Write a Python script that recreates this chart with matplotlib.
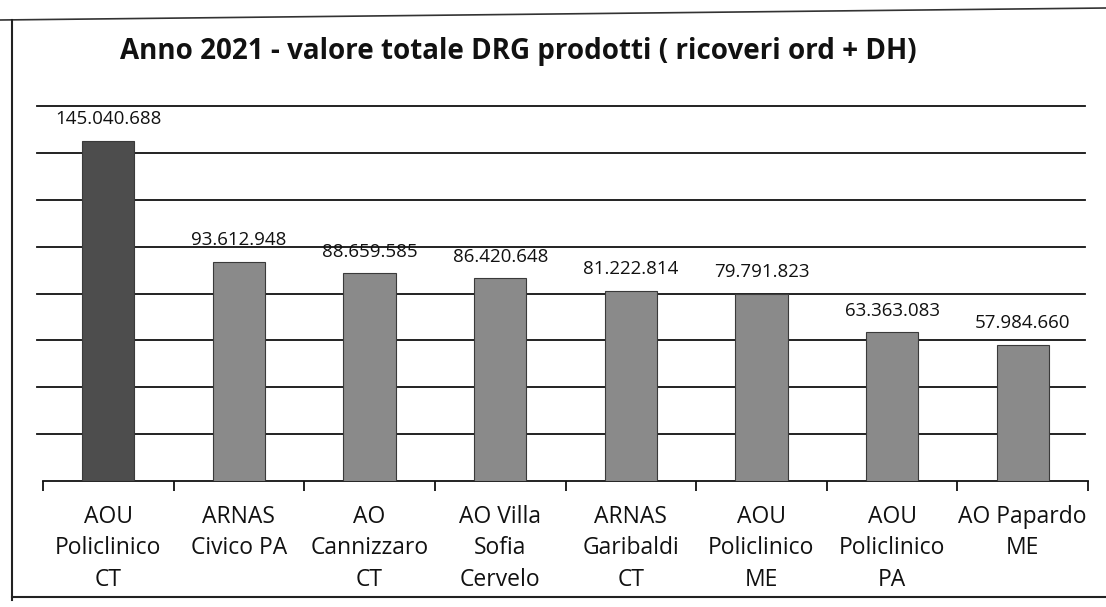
import matplotlib
matplotlib.use("Agg")
import matplotlib.pyplot as plt
from matplotlib.lines import Line2D

categories = ["AOU\nPoliclinico\nCT", "ARNAS\nCivico PA", "AO\nCannizzaro\nCT", "AO Villa\nSofia\nCervelo",
              "ARNAS\nGaribaldi\nCT", "AOU\nPoliclinico\nME", "AOU\nPoliclinico\nPA", "AO Papardo\nME"]
values = [145040688, 93612948, 88659585, 86420648, 81222814, 79791823, 63363083, 57984660]
value_labels = ["145.040.688", "93.612.948", "88.659.585", "86.420.648",
                "81.222.814", "79.791.823", "63.363.083", "57.984.660"]
title = "Anno 2021 - valore totale DRG prodotti ( ricoveri ord + DH)"

W, H = 1106, 607
fig = plt.figure(figsize=(W / 100, H / 100), dpi=100)
fig.patch.set_facecolor("white")

ax = fig.add_axes([43 / W, (H - 481) / H, (1088 - 43) / W, (481 - 106) / H])
ax.set_xlim(-0.5, len(values) - 0.5)
ax.set_ylim(0, 160e6)

colors = ["#4d4d4d"] + ["#8a8a8a"] * (len(values) - 1)
xs = list(range(len(values)))
ax.bar(xs, values, width=0.4, color=colors, edgecolor="#3a3a3a", linewidth=0.8, zorder=3)

# gridlines
for g in range(20_000_000, 160_000_001, 20_000_000):
    ax.axhline(g, xmin=-6 / 1045, xmax=1 - 3 / 1045, color="#111111", linewidth=1.3, zorder=1, clip_on=False)

for x, v, lab in zip(xs, values, value_labels):
    ax.annotate(lab, (x, v), xytext=(0, 12), textcoords="offset points", ha="center", va="baseline",
                fontsize=13.5, family="Open Sans", color="#111111", zorder=4)

for s in ["top", "right", "left"]:
    ax.spines[s].set_visible(False)
ax.spines["bottom"].set_color("#111111")
ax.spines["bottom"].set_linewidth(1.3)
ax.set_yticks([])
ax.set_xticks(xs)
ax.set_xticklabels(categories, fontsize=16.5, family="Open Sans", color="#111111", linespacing=1.42, va="top")
ax.tick_params(axis="x", which="major", length=0, pad=17)
ax.set_xticks([i - 0.5 for i in range(len(values) + 1)], minor=True)
ax.tick_params(axis="x", which="minor", length=7, width=1.3, color="#111111")

fig.text(518 / W, 1 - 52 / H, title, ha="center", va="center", fontsize=20, fontweight="bold",
         family="Open Sans", color="#111111")

# outer frame (scanned border)
fig.add_artist(Line2D([0, 1], [1 - 20 / H, 1 - 8 / H], transform=fig.transFigure, color="#333333", linewidth=1.2))
fig.add_artist(Line2D([12 / W, 12 / W], [1 - 20 / H, 1 - 600 / H], transform=fig.transFigure, color="#222222", linewidth=1.5))
fig.add_artist(Line2D([12 / W, 1], [1 - 597 / H, 1 - 597 / H], transform=fig.transFigure, color="#222222", linewidth=1.5))

fig.savefig("out.png", dpi=100)
